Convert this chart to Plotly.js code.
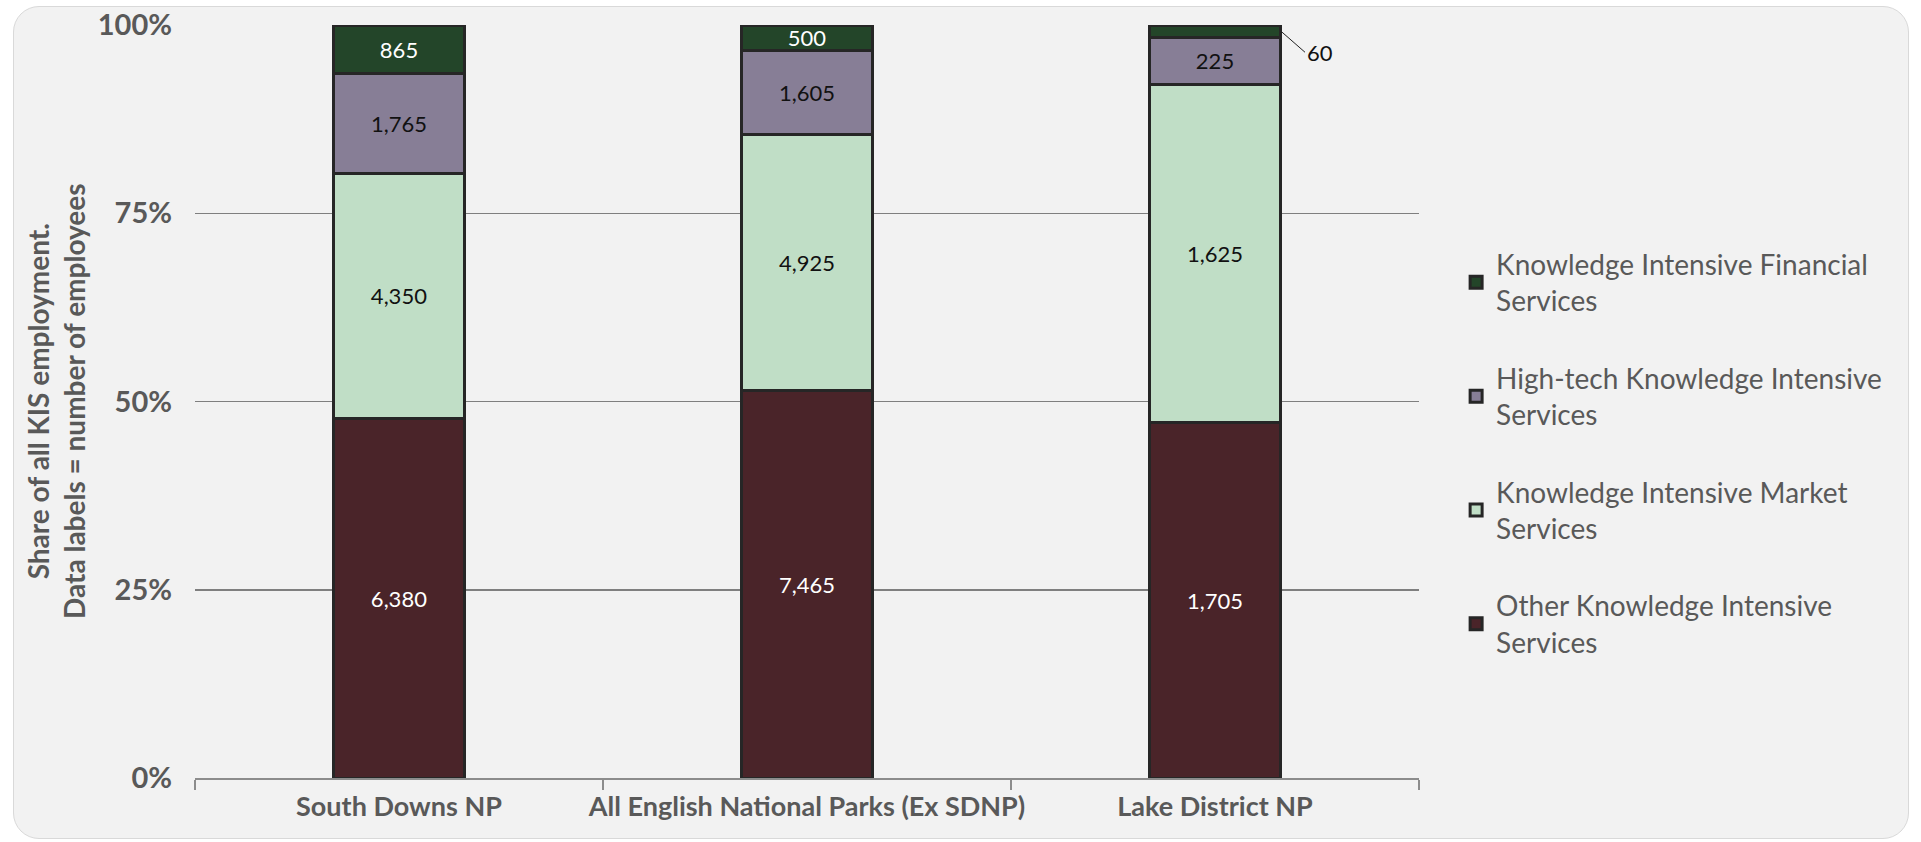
<!DOCTYPE html>
<html>
<head>
<meta charset="utf-8">
<script src="https://cdn.plot.ly/plotly-3.0.1.min.js"></script>
<style>
  html, body { margin: 0; padding: 0; background: #ffffff; }
  #frame { position: absolute; left: 13px; top: 6px; width: 1896px; height: 833px;
           background: #f2f2f2; border: 1px solid #d9d9d9; border-radius: 26px; box-sizing: border-box; }
  #chart { position: absolute; left: 0; top: 0; width: 1921px; height: 842px; }
</style>
</head>
<body>
<div id="frame"></div>
<div id="chart"></div>
<script>
// ---- data ----
const categories = ["South Downs NP", "All English National Parks (Ex SDNP)", "Lake District NP"];
const otherKIS     = [6380, 7465, 1705];
const marketKIS    = [4350, 4925, 1625];
const hightechKIS  = [1765, 1605, 225];
const financialKIS = [865, 500, 60];
const seriesNames = [
  "Other Knowledge Intensive<br>Services",
  "Knowledge Intensive Market<br>Services",
  "High-tech Knowledge Intensive<br>Services",
  "Knowledge Intensive Financial<br>Services"
];
const yTickVals = [0, 25, 50, 75, 100];
const yTickText = ["0%", "25%", "50%", "75%", "100%"];
const yTitle = "Share of all KIS employment.<br>Data labels = number of employees";

// ---- styles ----
const colors = ["#4a2429", "#c0dec6", "#877e96", "#234529"];
const textColors = ["#ffffff", "#111111", "#111111", "#ffffff"];
const FONT = "Lato, 'Open Sans', sans-serif";
const GREY = "#595959";

const fmt = v => v.toLocaleString("en-US");
const allSeries = [otherKIS, marketKIS, hightechKIS, financialKIS];

const totals = categories.map((c, i) => allSeries.reduce((s, a) => s + a[i], 0));
const outsideIdx = 2; // Lake District financial label drawn outside with leader line

const traces = allSeries.map((vals, k) => ({
  type: "bar",
  name: seriesNames[k],
  x: categories,
  y: vals,
  text: vals.map((v, i) => (k === 3 && i === outsideIdx) ? "" : fmt(v)),
  textposition: "inside",
  insidetextanchor: "middle",
  textangle: 0,
  constraintext: "none",
  textfont: { family: FONT, size: 22, color: textColors[k] },
  marker: { color: colors[k], line: { color: "#262626", width: 3 } },
  width: 0.32,
  legendgroup: "g" + k,
  legendrank: 1000 - k,
  hoverinfo: "skip"
}));

const ldTop = 100 - (financialKIS[outsideIdx] / totals[outsideIdx]) * 100 / 2;

const layout = {
  width: 1921, height: 842,
  paper_bgcolor: "rgba(0,0,0,0)",
  plot_bgcolor: "rgba(0,0,0,0)",
  margin: { l: 195, r: 502, t: 25, b: 64, autoexpand: false },
  barmode: "stack",
  barnorm: "percent",
  showlegend: true,
  legend: {
    xref: "container", yref: "container",
    x: 0.758, xanchor: "left", y: 0.4656, yanchor: "middle",
    traceorder: "grouped",
    tracegroupgap: 38,
    font: { family: FONT, size: 28, color: GREY },
    bgcolor: "rgba(0,0,0,0)"
  },
  xaxis: {
    type: "category",
    tickson: "boundaries",
    ticks: "outside", ticklen: 10, tickcolor: "#8c8c8c", tickwidth: 1.5,
    showline: true, linecolor: "#8c8c8c", linewidth: 1.5,
    showgrid: false, tickangle: 0, automargin: false,
    tickfont: { family: FONT, size: 27, color: GREY, weight: "bold" },
    ticklabelstandoff: 4
  },
  yaxis: {
    range: [0, 100], automargin: false,
    tickvals: yTickVals, ticktext: yTickText,
    showgrid: true, gridcolor: "#7f7f7f", gridwidth: 1.5,
    zeroline: false, showline: false, ticks: "",
    tickfont: { family: FONT, size: 29, color: GREY, weight: "bold" },
    ticklabelstandoff: 22
  },
  annotations: [
    {
      xref: "paper", yref: "paper", x: -0.114, y: 0.5,
      xanchor: "center", yanchor: "middle",
      text: yTitle, textangle: -90, showarrow: false,
      font: { family: FONT, size: 28, color: GREY, weight: "bold" }
    },
    {
      x: categories[outsideIdx], y: ldTop, xref: "x", yref: "y",
      xshift: 66,
      text: fmt(financialKIS[outsideIdx]),
      showarrow: true, arrowhead: 0, arrowwidth: 1, arrowcolor: "#222",
      ax: 24, ay: 21, xanchor: "left",
      font: { family: FONT, size: 22, color: "#111" }
    }
  ]
};

Plotly.newPlot("chart", traces, layout, { displayModeBar: false, staticPlot: true });
</script>
</body>
</html>
